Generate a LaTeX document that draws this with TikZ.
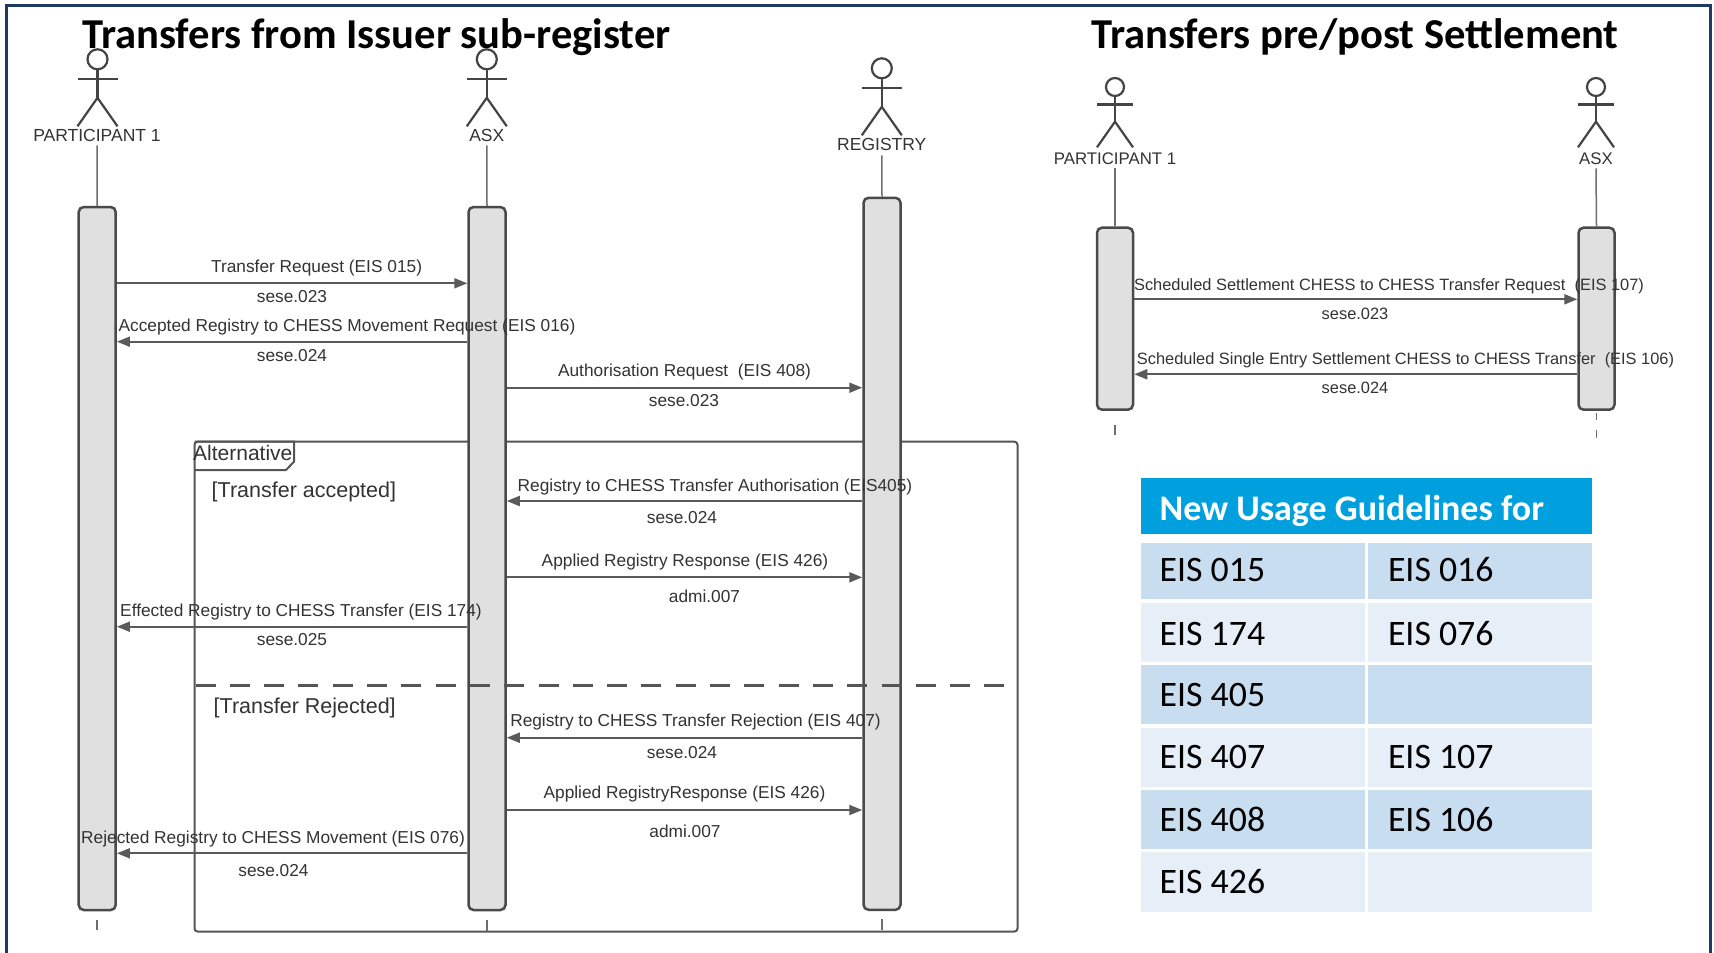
\documentclass[tikz,border=0pt]{standalone}
\usepackage{fontspec}
\setmainfont{Liberation Sans}
\newfontfamily\calibfont{Carlito}
\usetikzlibrary{arrows.meta}
\definecolor{bargray}{HTML}{E0E0E0}
\definecolor{barline}{HTML}{4A4A4A}
\definecolor{lifegray}{HTML}{6E6E6E}
\definecolor{actgray}{HTML}{444444}
\definecolor{msgline}{HTML}{5A5A5A}
\definecolor{framegray}{HTML}{555555}
\definecolor{txt}{HTML}{333333}
\definecolor{navyline}{HTML}{1F3A5F}
\definecolor{hdrblue}{HTML}{00A0DF}
\definecolor{rowdark}{HTML}{C9DDF1}
\definecolor{rowlight}{HTML}{E6EEF8}
\newcommand\msgsize{\fontsize{17.3pt}{20pt}\selectfont}
\newcommand\rmsgsize{\fontsize{16.4pt}{19pt}\selectfont}
\newcommand\actsize{\fontsize{17.5pt}{20pt}\selectfont}
\newcommand\ractsize{\fontsize{16.8pt}{19pt}\selectfont}
\tikzset{
  actorfig/.pic={
    \draw[actline] (0,0) circle[radius=10pt];
    \draw[actline] (-20,19.5) -- (20,19.5);
    \draw[actline] (0,10) -- (0,38.5);
    \draw[actline] (-20,67) -- (0,38.5) -- (20,67);
  },
  actline/.style={draw=actgray,line width=2.2pt},
}
\begin{document}
\begin{tikzpicture}[x=1pt,y=-1pt,
  bar/.style={draw=barline,line width=2.5pt,fill=bargray,rounded corners=5pt,minimum width=37pt,inner sep=0pt},
  life/.style={draw=lifegray,line width=1.5pt},
  msg/.style={draw=msgline,line width=2pt,-{Triangle[length=13pt,width=10pt]}},
  lbl/.style={inner sep=0pt,anchor=base,text=txt,font=\msgsize},
  rlbl/.style={inner sep=0pt,anchor=base,text=txt,font=\rmsgsize},
  actlbl/.style={inner sep=0pt,anchor=base,text=txt,font=\actsize},
  ractlbl/.style={inner sep=0pt,anchor=base,text=txt,font=\ractsize},
  guard/.style={inner sep=0pt,anchor=base west,text=txt,font=\fontsize{21.5pt}{24pt}\selectfont},
  ttl/.style={inner sep=0pt,anchor=base west,font=\calibfont\bfseries\fontsize{42.6pt}{48pt}\selectfont},
  celltxt/.style={inner sep=0pt,anchor=base west,font=\calibfont\fontsize{35.8pt}{40pt}\selectfont},
  framebox/.style={draw=framegray,line width=2pt},
]
\useasboundingbox (0,0) rectangle (1714,953);
\fill[white] (0,0) rectangle (1714,953);
% outer border
\draw[navyline,line width=3pt] (6.5,953) -- (6.5,5) -- (1710,5) -- (1710,953);

% titles
\node[ttl] (ttlA) at (82,48.3) {Transfers from Issuer sub-register};
\node[ttl] (ttlB) at (1091,48.3) {Transfers pre/post Settlement};

% ---------------- left diagram ----------------
% alternative frame
\draw[framebox,rounded corners=3pt] (194.5,441.7) rectangle (1017.5,931.5);
\draw[framebox] (194.5,441.7) -- (294,441.7) -- (294,461.7) -- (286,470) -- (194.5,470);

% actors
\pic at (97.5,59.3) {actorfig};
\pic at (486.8,59.3) {actorfig};
\pic at (881.8,68.3) {actorfig};
\node[actlbl] (p1lbl) at (97,141) {PARTICIPANT 1};
\node[actlbl] (asxlbl) at (486.8,141) {ASX};
\node[actlbl] (reglbl) at (881.8,150) {REGISTRY};

% bars
\node[bar,minimum height=703pt] (p1bar) at (97.2,558.5) {};
\node[bar,minimum height=703pt] (asxbar) at (487,558.5) {};
\node[bar,minimum height=712pt] (regbar) at (882,553.8) {};

% lifelines
\draw[life] ([yshift=-4pt]p1lbl.south) -- (p1bar.north);
\draw[life] ([yshift=-4pt]asxlbl.south) -- (asxbar.north);
\draw[life] ([yshift=-5pt]reglbl.south) -- (regbar.north);
\draw[life] (p1bar.south) ++(0,9) -- ++(0,10);
\draw[life] (asxbar.south) ++(0,9) -- ++(0,11);
\draw[life] (regbar.south) ++(0,8) -- ++(0,11);

% dashed separator
\draw[draw=framegray,line width=3pt,dash pattern=on 20pt off 14.3pt] (195.5,685.5) -- (1005,685.5);

% message levels
\coordinate (y1) at (0,283.3);
\coordinate (y2) at (0,341.7);
\coordinate (y3) at (0,387.7);
\coordinate (y4) at (0,501);
\coordinate (y5) at (0,577.3);
\coordinate (y6) at (0,626.7);
\coordinate (y7) at (0,737.7);
\coordinate (y8) at (0,810);
\coordinate (y9) at (0,853.3);

\draw[msg] (p1bar.east |- y1) -- (asxbar.west |- y1);
\draw[msg] (asxbar.west |- y2) -- (p1bar.east |- y2);
\draw[msg] (asxbar.east |- y3) -- (regbar.west |- y3);
\draw[msg] (regbar.west |- y4) -- (asxbar.east |- y4);
\draw[msg] (asxbar.east |- y5) -- (regbar.west |- y5);
\draw[msg] (asxbar.west |- y6) -- (p1bar.east |- y6);
\draw[msg] (regbar.west |- y7) -- (asxbar.east |- y7);
\draw[msg] (asxbar.east |- y8) -- (regbar.west |- y8);
\draw[msg] (asxbar.west |- y9) -- (p1bar.east |- y9);

% message labels
\node[lbl] (m1a) at (316.6,272.7) {Transfer Request (EIS 015)};
\node[lbl] (m1b) at (292,302.7) {sese.023};
\node[lbl] (m2a) at (347,331) {Accepted Registry to CHESS Movement Request (EIS 016)};
\node[lbl] (m2b) at (292,361) {sese.024};
\node[lbl] (m3a) at (684.5,376) {Authorisation Request\ \ (EIS 408)};
\node[lbl] (m3b) at (684,406) {sese.023};
\node[lbl] (m4a) at (715,491) {Registry to CHESS Transfer Authorisation (EIS405)};
\node[lbl] (m4b) at (682,523.7) {sese.024};
\node[lbl] (m5a) at (685,566.7) {Applied Registry Response (EIS 426)};
\node[lbl] (m5b) at (704.5,602) {admi.007};
\node[lbl] (m6a) at (301,616) {Effected Registry to CHESS Transfer (EIS 174)};
\node[lbl] (m6b) at (292,645) {sese.025};
\node[lbl] (m7a) at (695.5,726) {Registry to CHESS Transfer Rejection (EIS 407)};
\node[lbl] (m7b) at (682,758.7) {sese.024};
\node[lbl] (m8a) at (684.5,798.7) {Applied RegistryResponse (EIS 426)};
\node[lbl] (m8b) at (685,837) {admi.007};
\node[lbl] (m9a) at (273,843.3) {Rejected Registry to CHESS Movement (EIS 076)};
\node[lbl] (m9b) at (273.5,876) {sese.024};

% frame texts
\node[inner sep=0pt,anchor=base west,text=txt,font=\fontsize{21pt}{24pt}\selectfont] (altlbl) at (193,460.5) {Alternative};
\node[guard] (g1) at (211.5,497) {[Transfer accepted]};
\node[guard] (g2) at (213.5,713) {[Transfer Rejected]};

% ---------------- right diagram ----------------
\pic[scale=0.9] at (1115,87) {actorfig};
\pic[scale=0.9] at (1596,87) {actorfig};
\node[ractlbl] (p1rlbl) at (1115,164) {PARTICIPANT 1};
\node[ractlbl] (asxrlbl) at (1596,164) {ASX};
\node[bar,minimum height=182pt,minimum width=36pt] (p1rbar) at (1115,318.7) {};
\node[bar,minimum height=182pt,minimum width=36pt] (asxrbar) at (1596.5,318.7) {};
\draw[life] ([yshift=-4pt]p1rlbl.south) -- (p1rbar.north);
\draw[life] ([yshift=-4pt]asxrlbl.south) -- (asxrbar.north);
\draw[life] (p1rbar.south) ++(0,14) -- ++(0,10);
\draw[life] (asxrbar.south) ++(0,2) -- ++(0,7);
\draw[life] (asxrbar.south) ++(0,19) -- ++(0,8);

\coordinate (yr1) at (0,299.3);
\coordinate (yr2) at (0,374.3);
\draw[msg] (p1rbar.east |- yr1) -- (asxrbar.west |- yr1);
\draw[msg] (asxrbar.west |- yr2) -- (p1rbar.east |- yr2);
\node[rlbl] (r1a) at (1389,290) {Scheduled Settlement CHESS to CHESS Transfer Request\ \ (EIS 107)};
\node[rlbl] (r1b) at (1355,319.3) {sese.023};
\node[rlbl] (r2a) at (1405.5,364.3) {Scheduled Single Entry Settlement CHESS to CHESS Transfer\ \ (EIS 106)};
\node[rlbl] (r2b) at (1355,393.7) {sese.024};

% ---------------- table ----------------
\node[fill=hdrblue,inner sep=0pt,minimum width=451pt,minimum height=56.7pt,anchor=north west] (hdr) at (1141,477.3) {};
\node[inner sep=0pt,anchor=base west,text=white,font=\calibfont\bfseries\fontsize{36pt}{40pt}\selectfont] (hdrtxt) at (1159.5,520.7) {New Usage Guidelines for};

\fill[rowdark]  (1141,542.7) rectangle (1365,599.3);
\fill[rowdark]  (1368,542.7) rectangle (1592,599.3);
\fill[rowlight] (1141,602.7) rectangle (1365,661.7);
\fill[rowlight] (1368,602.7) rectangle (1592,661.7);
\fill[rowdark]  (1141,665) rectangle (1365,724.3);
\fill[rowdark]  (1368,665) rectangle (1592,724.3);
\fill[rowlight] (1141,727.7) rectangle (1365,786.7);
\fill[rowlight] (1368,727.7) rectangle (1592,786.7);
\fill[rowdark]  (1141,790) rectangle (1365,849);
\fill[rowdark]  (1368,790) rectangle (1592,849);
\fill[rowlight] (1141,852.3) rectangle (1365,911.7);
\fill[rowlight] (1368,852.3) rectangle (1592,911.7);

\node[celltxt] (t1a) at (1159.5,581.7) {EIS 015};
\node[celltxt] (t1b) at (1387.8,581.7) {EIS 016};
\node[celltxt] (t2a) at (1159.5,645) {EIS 174};
\node[celltxt] (t2b) at (1387.8,645) {EIS 076};
\node[celltxt] (t3a) at (1159.5,706.7) {EIS 405};
\node[celltxt] (t4a) at (1159.5,768.3) {EIS 407};
\node[celltxt] (t4b) at (1387.8,768.3) {EIS 107};
\node[celltxt] (t5a) at (1159.5,831) {EIS 408};
\node[celltxt] (t5b) at (1387.8,831) {EIS 106};
\node[celltxt] (t6a) at (1159.5,893.3) {EIS 426};
\end{tikzpicture}
\end{document}
